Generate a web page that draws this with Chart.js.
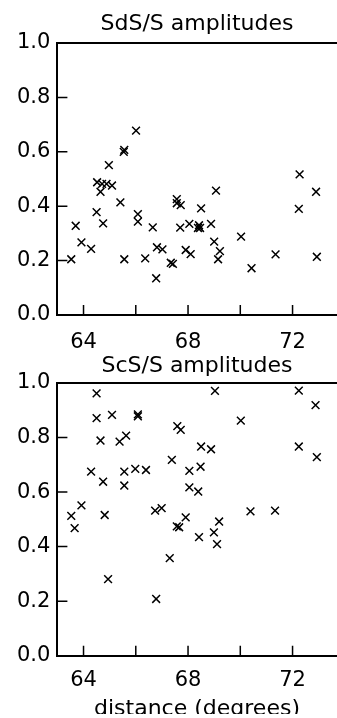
<!DOCTYPE html>
<html>
<head>
<meta charset="utf-8">
<script src="https://cdn.jsdelivr.net/npm/chart.js"></script>
<style>
  html, body { margin: 0; padding: 0; background: #fff; overflow: hidden; }
  #wrap { position: relative; width: 337px; height: 718px; overflow: hidden; }
  canvas { position: absolute; left: 0; }
  #top { top: 0; }
  #bottom { top: 350px; }
</style>
</head>
<body>
<div id="wrap">
  <!-- the figure is cropped on the right, so the canvases run past the window -->
  <canvas id="top" width="384" height="370"></canvas>
  <canvas id="bottom" width="384" height="364"></canvas>
</div>
<script>
// SdS/S amplitudes (upper panel)
const sdsDist = [63.53, 63.70, 63.92, 64.29, 64.50, 64.52, 64.65, 64.71, 64.75, 64.88,
    64.97, 65.09, 65.41, 65.54, 65.56, 65.56, 66.01, 66.08, 66.08, 66.36,
    66.65, 66.78, 66.81, 67.02, 67.34, 67.42, 67.57, 67.57, 67.72, 67.70,
    67.91, 68.05, 68.10, 68.42, 68.46, 68.38, 68.50, 68.88, 69.00, 69.07,
    69.15, 69.22, 70.03, 70.43, 71.35, 72.24, 72.27, 72.90, 72.93];
const sdsAmp = [0.205, 0.328, 0.267, 0.243, 0.378, 0.488, 0.453, 0.482, 0.337, 0.482,
    0.551, 0.476, 0.414, 0.600, 0.607, 0.205, 0.678, 0.371, 0.343, 0.208,
    0.322, 0.135, 0.249, 0.241, 0.192, 0.188, 0.426, 0.411, 0.404, 0.321,
    0.239, 0.335, 0.224, 0.330, 0.320, 0.320, 0.392, 0.335, 0.270, 0.457,
    0.205, 0.235, 0.288, 0.172, 0.223, 0.390, 0.517, 0.453, 0.214];

// ScS/S amplitudes (lower panel)
const scsDist = [64.50, 69.03, 72.24, 72.88, 64.50, 65.09, 66.08, 66.08, 70.02, 67.59,
    67.72, 64.65, 65.38, 65.63, 68.50, 68.88, 72.24, 72.93, 67.38, 64.29,
    65.56, 65.98, 66.39, 68.05, 68.48, 64.75, 65.56, 68.05, 68.39, 63.92,
    63.53, 63.66, 64.81, 66.74, 66.99, 67.91, 67.57, 67.66, 69.19, 70.39,
    71.33, 68.42, 68.99, 69.11, 67.30, 64.94, 66.78];
const scsAmp = [0.962, 0.971, 0.972, 0.919, 0.871, 0.883, 0.885, 0.878, 0.862, 0.842,
    0.828, 0.789, 0.785, 0.807, 0.767, 0.757, 0.767, 0.728, 0.718, 0.675,
    0.675, 0.685, 0.681, 0.678, 0.693, 0.638, 0.624, 0.617, 0.602, 0.551,
    0.513, 0.468, 0.516, 0.532, 0.541, 0.507, 0.474, 0.471, 0.492, 0.529,
    0.532, 0.435, 0.452, 0.409, 0.358, 0.281, 0.208];

const xTicks = [64, 66, 68, 70, 72];
const xLabelled = [64, 68, 72];
const yTicks = [0, 0.2, 0.4, 0.6, 0.8, 1.0];

const FONT = "'DejaVu Sans', sans-serif";

// top frame line and inward tick marks
const frameTicks = {
    id: 'frameTicks',
    afterDatasetsDraw(chart) {
        const ctx = chart.ctx;
        const a = chart.chartArea;
        const xs = chart.scales.x;
        const ys = chart.scales.y;
        ctx.save();
        ctx.strokeStyle = '#000';
        ctx.lineWidth = 2;
        ctx.beginPath();
        ctx.moveTo(a.left - 1, a.top);
        ctx.lineTo(a.right, a.top);
        ctx.stroke();
        ctx.lineWidth = 1.5;
        ctx.beginPath();
        yTicks.slice(1, -1).forEach(v => {
            const py = ys.getPixelForValue(v);
            ctx.moveTo(a.left, py);
            ctx.lineTo(a.left + 10, py);
        });
        xTicks.forEach(v => {
            const px = xs.getPixelForValue(v);
            ctx.moveTo(px, a.bottom);
            ctx.lineTo(px, a.bottom - 10);
        });
        ctx.stroke();
        ctx.restore();
    }
};

function makePanel(id, title, dist, amp, opts) {
    const points = dist.map((d, i) => ({ x: d, y: amp[i] }));
    new Chart(document.getElementById(id), {
        type: 'scatter',
        data: {
            datasets: [{
                data: points,
                pointStyle: 'crossRot',
                pointRadius: 5.5,
                borderWidth: 1.5,
                borderColor: '#000',
                backgroundColor: '#000'
            }]
        },
        options: {
            responsive: false,
            animation: false,
            events: [],
            layout: { autoPadding: false, padding: { left: 10, right: 0, top: 0, bottom: 0 } },
            plugins: {
                legend: { display: false },
                tooltip: { enabled: false },
                title: {
                    display: true,
                    text: title,
                    color: '#000',
                    font: { family: FONT, size: 22, weight: 'normal', lineHeight: 1.2 },
                    padding: opts.titlePad
                },
                subtitle: {
                    display: !!opts.xTitle,
                    text: opts.xTitle || '',
                    position: 'bottom',
                    color: '#000',
                    font: { family: FONT, size: 22, weight: 'normal', lineHeight: 0.4 },
                    padding: { top: 0.5, bottom: 0 }
                }
            },
            scales: {
                x: {
                    type: 'linear',
                    min: 63,
                    max: 75.5,
                    afterBuildTicks: s => { s.ticks = xTicks.map(v => ({ value: v })); },
                    ticks: {
                        color: '#000',
                        padding: opts.xPad,
                        maxRotation: 0,
                        autoSkip: false,
                        font: { family: FONT, size: 21, lineHeight: 1 },
                        callback: v => xLabelled.includes(v) ? String(v) : ''
                    },
                    grid: { drawOnChartArea: false, drawTicks: false },
                    border: { display: true, color: '#000', width: 2 }
                },
                y: {
                    type: 'linear',
                    min: 0,
                    max: 1,
                    afterBuildTicks: s => { s.ticks = yTicks.map(v => ({ value: v })); },
                    ticks: {
                        color: '#000',
                        padding: 7,
                        font: { family: FONT, size: 21, lineHeight: 1 },
                        callback: v => v.toFixed(1)
                    },
                    grid: { drawOnChartArea: false, drawTicks: false },
                    border: { display: true, color: '#000', width: 2 }
                }
            }
        },
        plugins: [frameTicks]
    });
}

makePanel('top', 'SdS/S amplitudes', sdsDist, sdsAmp,
    { titlePad: { top: 10.8, bottom: 5.8 }, xPad: 17 });
makePanel('bottom', 'ScS/S amplitudes', scsDist, scsAmp,
    { titlePad: { top: 3.5, bottom: 3.1 }, xPad: 14, xTitle: 'distance (degrees)' });
</script>
</body>
</html>
